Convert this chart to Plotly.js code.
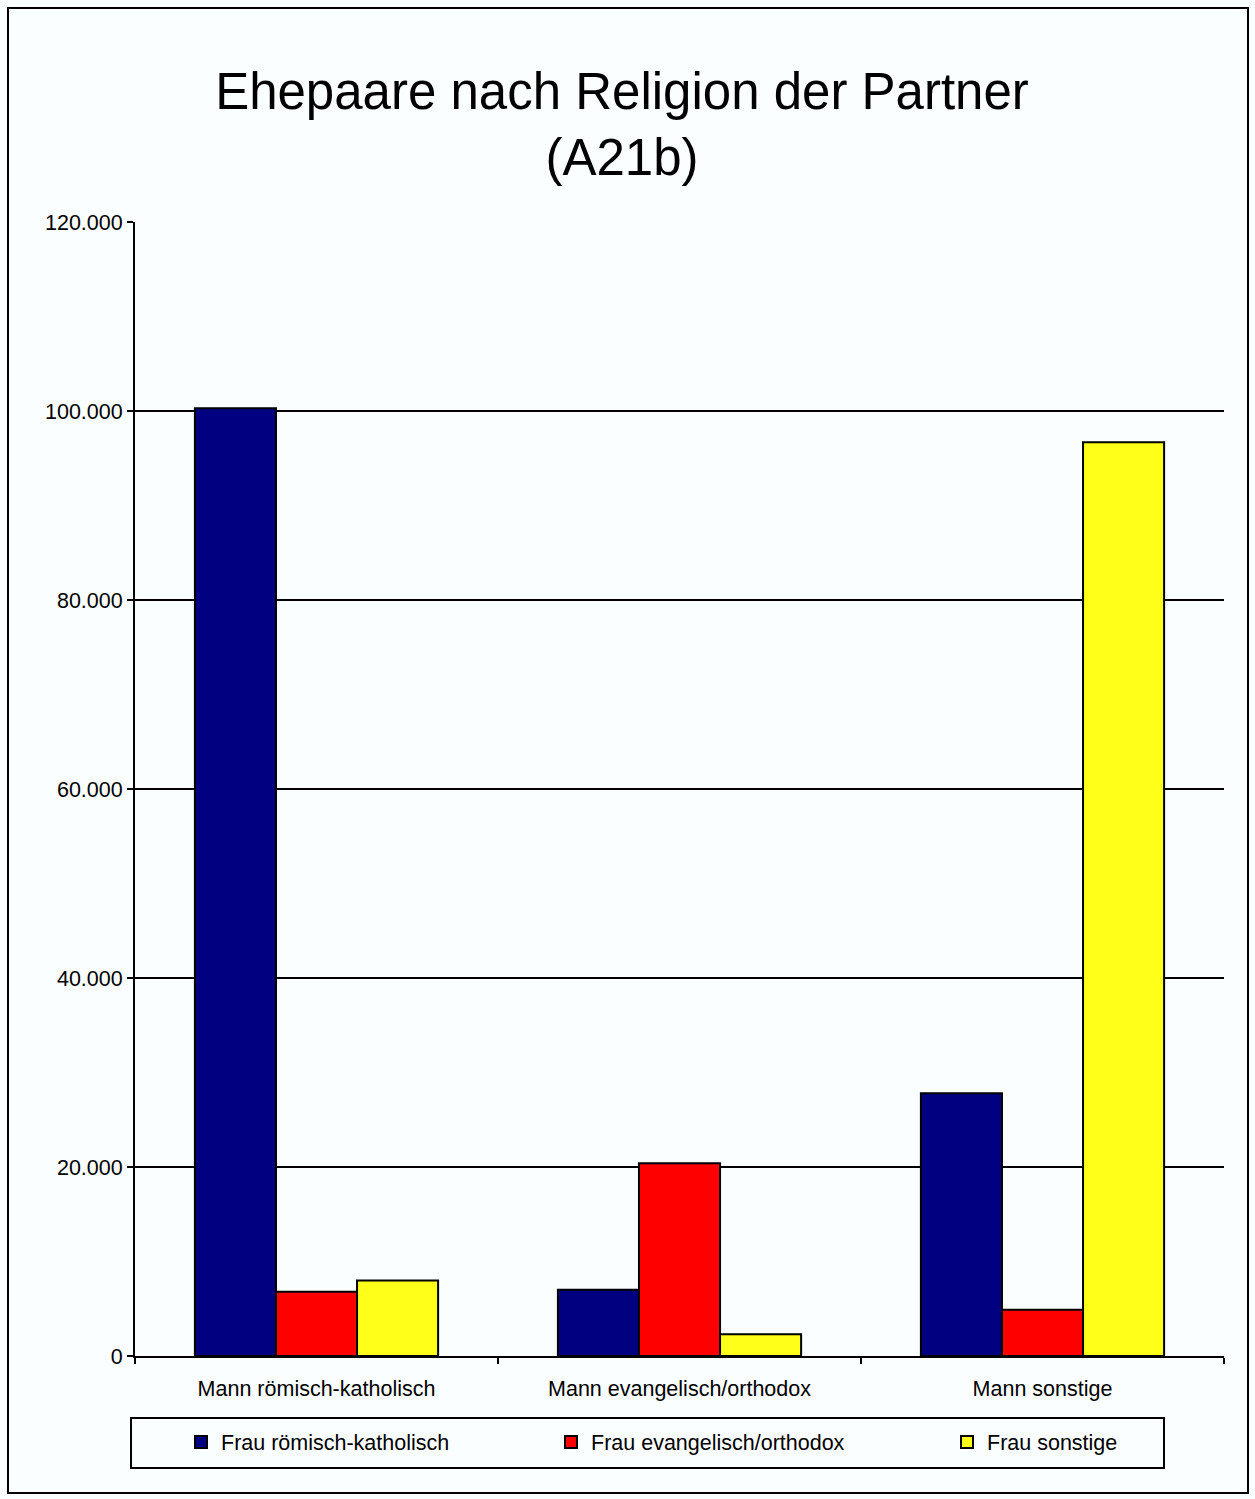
<!DOCTYPE html>
<html>
<head>
<meta charset="utf-8">
<script src="https://cdn.plot.ly/plotly-3.0.1.min.js"></script>
<style>
  html, body { margin: 0; padding: 0; background: #FAFEFE; }
  #chart { width: 1255px; height: 1499px; }
</style>
</head>
<body>
<div id="chart"></div>
<script>
const categories = ["Mann römisch-katholisch", "Mann evangelisch/orthodox", "Mann sonstige"];
const seriesNames = ["Frau römisch-katholisch", "Frau evangelisch/orthodox", "Frau sonstige"];
const fraukatholisch = [100300, 7000, 27800];
const frauevangelisch = [6800, 20400, 4900];
const frausonstige = [8000, 2300, 96700];
const seriesColors = ["#000080", "#FF0000", "#FFFF1A"];
const yTicks = [0, 20000, 40000, 60000, 80000, 100000, 120000];

const legendIds = ["legend", "legend2", "legend3"];
const seriesValues = [fraukatholisch, frauevangelisch, frausonstige];
const traces = seriesValues.map((vals, i) => ({
  type: "bar",
  name: seriesNames[i],
  x: categories,
  y: vals,
  legend: legendIds[i],
  marker: { color: seriesColors[i], line: { color: "#000000", width: 2 } },
  hoverinfo: "x+y+name"
}));

// plot area geometry
const W = 1255, H = 1499;
const L = 135, R = 1224, T = 222, B = 1356;
const pw = R - L, ph = B - T;
const px = v => (v - L) / pw;
const py = v => (B - v) / ph;

const legendStyle = xPix => ({
  orientation: "h",
  x: px(xPix), xanchor: "left",
  y: py(1442), yanchor: "middle",
  bgcolor: "rgba(0,0,0,0)",
  borderwidth: 0,
  font: { size: 21.5, color: "#000000" }
});

const layout = {
  width: W, height: H,
  margin: { l: L, r: W - R, t: T, b: H - B, pad: 0 },
  paper_bgcolor: "#FAFEFE",
  plot_bgcolor: "#FAFEFE",
  separators: ",.",
  font: { family: "Liberation Sans, Arial, sans-serif", color: "#000000", size: 21.5 },
  title: {
    text: "Ehepaare nach Religion der Partner<br>(A21b)",
    font: { size: 51, color: "#000000", family: "Liberation Sans, Arial, sans-serif" },
    x: 0.4956, xref: "container", xanchor: "center",
    y: 1 - 109 / H, yref: "container", yanchor: "top"
  },
  barmode: "group",
  bargap: 0.33,
  bargroupgap: 0,
  showlegend: true,
  legend: legendStyle(181),
  legend2: legendStyle(551),
  legend3: legendStyle(947),
  xaxis: {
    type: "category",
    showline: true, linecolor: "#000000", linewidth: 2,
    ticks: "outside", ticklen: 6, tickwidth: 2, tickcolor: "#000000",
    tickson: "boundaries",
    ticklabelstandoff: 12,
    showgrid: false, zeroline: false,
    tickfont: { size: 21.5, color: "#000000" },
    fixedrange: true
  },
  yaxis: {
    range: [0, 120000],
    tickvals: yTicks,
    tickformat: ",d",
    showline: true, linecolor: "#000000", linewidth: 2,
    ticks: "outside", ticklen: 6, tickwidth: 2, tickcolor: "#000000",
    showgrid: true, gridcolor: "#000000", gridwidth: 2,
    zeroline: false,
    tickfont: { size: 21.5, color: "#000000" },
    fixedrange: true
  },
  shapes: [
    // legend box
    { type: "rect", xref: "paper", yref: "paper",
      x0: px(131), x1: px(1164), y0: py(1468), y1: py(1418),
      line: { color: "#000000", width: 2 }, fillcolor: "rgba(0,0,0,0)", layer: "below" },
    // outer chart border
    { type: "rect", xref: "paper", yref: "paper",
      x0: px(8), x1: px(1248), y0: py(1493), y1: py(8),
      line: { color: "#000000", width: 2 }, fillcolor: "rgba(0,0,0,0)", layer: "below" }
  ]
};

Plotly.newPlot("chart", traces, layout, { displayModeBar: false, staticPlot: true });
</script>
</body>
</html>
